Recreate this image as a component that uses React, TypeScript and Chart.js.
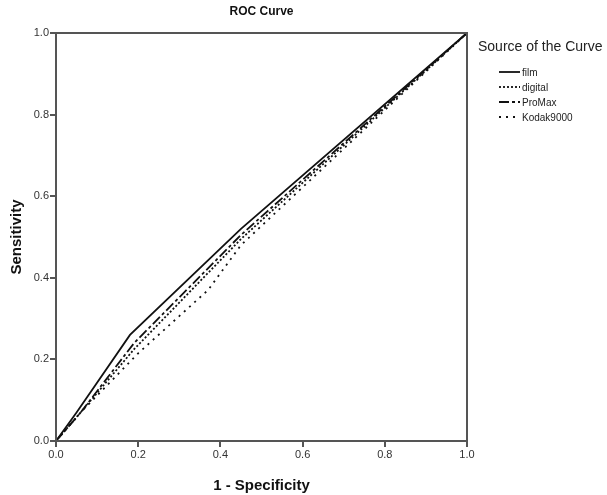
import React, { useEffect, useRef } from "react";
import { Chart, registerables } from "chart.js";

Chart.register(...registerables);

const seriesNames = ["film", "digital", "ProMax", "Kodak9000"];
const filmX = [0, 0.05, 0.18, 0.45, 1];
const filmY = [0, 0.07, 0.26, 0.52, 1];
const digitalX = [0, 0.06, 0.19, 0.45, 1];
const digitalY = [0, 0.07, 0.225, 0.495, 1];
const promaxX = [0, 0.06, 0.19, 0.45, 1];
const promaxY = [0, 0.07, 0.24, 0.505, 1];
const kodakX = [0, 0.06, 0.2, 0.37, 0.45, 1];
const kodakY = [0, 0.07, 0.215, 0.37, 0.48, 1];
const dashes: number[][] = [[], [2, 2], [10, 3, 3, 3], [2, 5]];
const xTicks = [0, 0.2, 0.4, 0.6, 0.8, 1.0];
const yTicks = [0, 0.2, 0.4, 0.6, 0.8, 1.0];

const FONT = "'Liberation Sans', Arial, sans-serif";

const toPts = (xs: number[], ys: number[]) => xs.map((x, i) => ({ x, y: ys[i] }));

export default function App() {
  const ref = useRef<HTMLCanvasElement | null>(null);
  useEffect(() => {
    document.body.style.margin = "0";
    const ctx = ref.current!.getContext("2d")!;
    const all = [
      toPts(filmX, filmY),
      toPts(digitalX, digitalY),
      toPts(promaxX, promaxY),
      toPts(kodakX, kodakY),
    ];
    const decor = {
      id: "decor",
      afterDraw(chart: any) {
        const c = chart.ctx;
        const a = chart.chartArea;
        c.save();
        c.strokeStyle = "#555";
        c.lineWidth = 2;
        c.strokeRect(a.left, a.top, a.right - a.left, a.bottom - a.top);
        c.fillStyle = "#111";
        c.textAlign = "center";
        c.textBaseline = "middle";
        c.font = `bold 12px ${FONT}`;
        c.fillText("ROC Curve", (a.left + a.right) / 2, 12);
        c.font = `bold 15px ${FONT}`;
        c.fillText("1 - Specificity", (a.left + a.right) / 2, 486);
        c.save();
        c.translate(17, (a.top + a.bottom) / 2);
        c.rotate(-Math.PI / 2);
        c.fillText("Sensitivity", 0, 0);
        c.restore();
        c.textAlign = "left";
        c.font = `14px ${FONT}`;
        c.fillStyle = "#222";
        c.fillText("Source of the Curve", 478, 47);
        c.font = `10px ${FONT}`;
        const ys = [72, 87, 102, 117];
        seriesNames.forEach((n, i) => {
          c.strokeStyle = "#111";
          c.lineWidth = 1.8;
          c.setLineDash(dashes[i]);
          c.beginPath();
          c.moveTo(499, ys[i]);
          c.lineTo(520, ys[i]);
          c.stroke();
          c.setLineDash([]);
          c.fillText(n, 522, ys[i] + 1);
        });
        c.restore();
      },
    };
    const chart = new Chart(ctx, {
      type: "scatter",
      data: {
        datasets: all.map((d, i) => ({
          label: seriesNames[i],
          data: d,
          showLine: true,
          borderColor: "#111",
          borderWidth: 1.8,
          borderDash: dashes[i],
          pointRadius: 0,
          fill: false,
        })),
      },
      options: {
        animation: false,
        responsive: false,
        layout: { padding: { left: 0, top: 33, right: 140, bottom: 0 } },
        plugins: { legend: { display: false }, tooltip: { enabled: false }, title: { display: false } },
        scales: {
          x: {
            type: "linear",
            min: 0,
            max: 1,
            afterFit: (s: any) => { s.height = 54; },
            afterBuildTicks: (s: any) => { s.ticks = xTicks.map((v) => ({ value: v })); },
            grid: { drawOnChartArea: false, drawTicks: true, tickLength: 6, color: "#555", lineWidth: 2 },
            border: { display: true, color: "#555", width: 2 },
            ticks: { color: "#333", font: { family: FONT, size: 11 }, padding: 1, callback: (v: any) => Number(v).toFixed(1), maxRotation: 0 },
          },
          y: {
            type: "linear",
            min: 0,
            max: 1,
            afterFit: (s: any) => { s.width = 56; },
            afterBuildTicks: (s: any) => { s.ticks = yTicks.map((v) => ({ value: v })); },
            grid: { drawOnChartArea: false, drawTicks: true, tickLength: 6, color: "#555", lineWidth: 2 },
            border: { display: true, color: "#555", width: 2 },
            ticks: { color: "#333", font: { family: FONT, size: 11 }, padding: 1, callback: (v: any) => Number(v).toFixed(1) },
          },
        },
      },
      plugins: [decor],
    });
    return () => chart.destroy();
  }, []);
  return (
    <div style={{ position: "absolute", left: 0, top: 0, width: 607, height: 495, background: "#fff" }}>
      <canvas ref={ref} width={607} height={495} style={{ width: 607, height: 495 }} />
    </div>
  );
}
